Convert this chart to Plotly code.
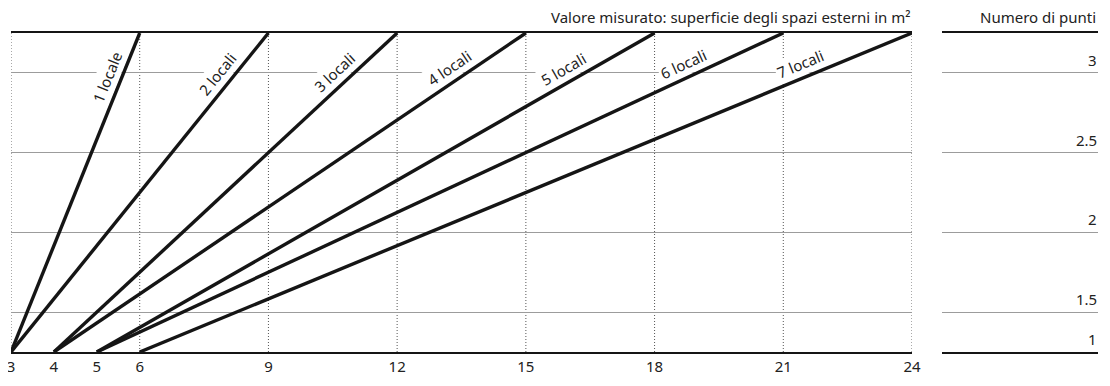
import math
import plotly.graph_objects as go

# ---- data ----
rooms_labels = ["1 locale", "2 locali", "3 locali", "4 locali", "5 locali", "6 locali", "7 locali"]
area_at_min_points = [3, 3, 4, 4, 5, 5, 6]        # m² where the line leaves the floor
area_at_max_points = [6, 9, 12, 15, 18, 21, 24]   # m² where the line reaches the top
points_floor = 1.25    # axis position of the floor (labelled "1")
points_top = 3.25      # axis position of the top edge

x_tickvals = [3, 4, 5, 6, 9, 12, 15, 18, 21, 24]
x_gridvals = [3, 6, 9, 12, 15, 18, 21, 24]
y_tick_labels = ["1", "1.5", "2", "2.5", "3"]
y_tick_pos = [1.25, 1.5, 2, 2.5, 3]

# label placement (points level on each line where the label sits)
label_level = [2.943, 2.938, 2.941, 2.958, 2.948, 2.976, 2.974]

# ---- layout constants ----
W, H = 1100, 370
ML, MR, MT, MB = 3, 10, 25, 26
plot_w = W - ML - MR
main_right_px = 904
right_left_px = 934
dom1 = [0, (main_right_px - ML) / plot_w]
dom2 = [(right_left_px - ML) / plot_w, 1]

FONT = "Noto Sans"
TXT = "#222222"
LINE = "#151515"
GRID = "#9c9c9c"
FS = 15

x_range = [3, 24]
y_range = [points_floor, points_top]
px_per_x = (main_right_px - ML) / (x_range[1] - x_range[0])
px_per_y = (H - MT - MB) / (y_range[1] - y_range[0])

fig = go.Figure()

for name, a0, a1 in zip(rooms_labels, area_at_min_points, area_at_max_points):
    fig.add_trace(go.Scatter(
        x=[a0, a1], y=[points_floor, points_top], mode="lines",
        line=dict(color=LINE, width=3.4), name=name, showlegend=False,
        hoverinfo="skip", xaxis="x", yaxis="y"))

# invisible trace for right panel
fig.add_trace(go.Scatter(x=[0.5], y=[2], mode="markers", marker=dict(opacity=0),
                         showlegend=False, hoverinfo="skip", xaxis="x2", yaxis="y2"))

for gx in x_gridvals:
    fig.add_shape(type="line", xref="x", yref="y domain", x0=gx, x1=gx, y0=0, y1=1,
                  line=dict(color="#555555", width=1, dash="1px,2px"), layer="below")

# labels along lines
d = 14
for name, a0, a1, lvl in zip(rooms_labels, area_at_min_points, area_at_max_points, label_level):
    dx_px = (a1 - a0) * px_per_x
    dy_px = (points_top - points_floor) * px_per_y
    theta = math.atan2(dy_px, dx_px)
    t = (lvl - points_floor) / (points_top - points_floor)
    xa = a0 + t * (a1 - a0)
    fig.add_annotation(
        x=xa, y=lvl, xref="x", yref="y", text=name, showarrow=False,
        textangle=-math.degrees(theta), bgcolor="white", borderpad=1,
        font=dict(family=FONT, size=FS, color=TXT),
        xanchor="center", yanchor="middle",
        xshift=-d * math.sin(theta), yshift=d * math.cos(theta))

# right-panel point labels (sit above their lines)
for lab, pos in zip(y_tick_labels, y_tick_pos):
    fig.add_annotation(x=1, y=pos, xref="x2 domain", yref="y2", xanchor="right", yanchor="bottom",
                       text=lab, showarrow=False, borderpad=0, yshift=2,
                       font=dict(family=FONT, size=FS, color=TXT))

fig.add_annotation(x=1, y=1, xref="x domain", yref="y domain", xanchor="right", yanchor="bottom",
                   text="Valore misurato: superficie degli spazi esterni in m²", showarrow=False,
                   font=dict(family=FONT, size=FS, color=TXT), yshift=4)
fig.add_annotation(x=1, y=1, xref="x2 domain", yref="y2 domain", xanchor="right", yanchor="bottom",
                   text="Numero di punti", showarrow=False,
                   font=dict(family=FONT, size=FS, color=TXT), yshift=4)

fig.update_layout(
    width=W, height=H, margin=dict(l=ML, r=MR, t=MT, b=MB, autoexpand=False),
    paper_bgcolor="white", plot_bgcolor="white", showlegend=False,
    xaxis=dict(domain=dom1, range=x_range, tickmode="array", tickvals=x_tickvals,
               ticktext=[str(v) for v in x_tickvals], showgrid=False, zeroline=False,
               showline=True, mirror=True, linecolor=LINE, linewidth=2, ticks="",
               ticklabeloverflow="allow", automargin=False,
               tickfont=dict(family=FONT, size=FS, color=TXT), anchor="y"),
    yaxis=dict(range=y_range, tickmode="array", tickvals=y_tick_pos[1:], showticklabels=False,
               showgrid=True, gridcolor=GRID, gridwidth=1, zeroline=False, showline=False,
               ticks="", anchor="x", automargin=False),
    xaxis2=dict(domain=dom2, range=[0, 1], showgrid=False, zeroline=False, showticklabels=False,
                showline=True, mirror=True, linecolor=LINE, linewidth=2, ticks="", anchor="y2",
                automargin=False),
    yaxis2=dict(range=y_range, tickmode="array", tickvals=y_tick_pos[1:], showticklabels=False,
                showgrid=True, gridcolor=GRID, gridwidth=1, zeroline=False, showline=False,
                ticks="", anchor="x2", automargin=False),
)

fig.write_html("out.html")
